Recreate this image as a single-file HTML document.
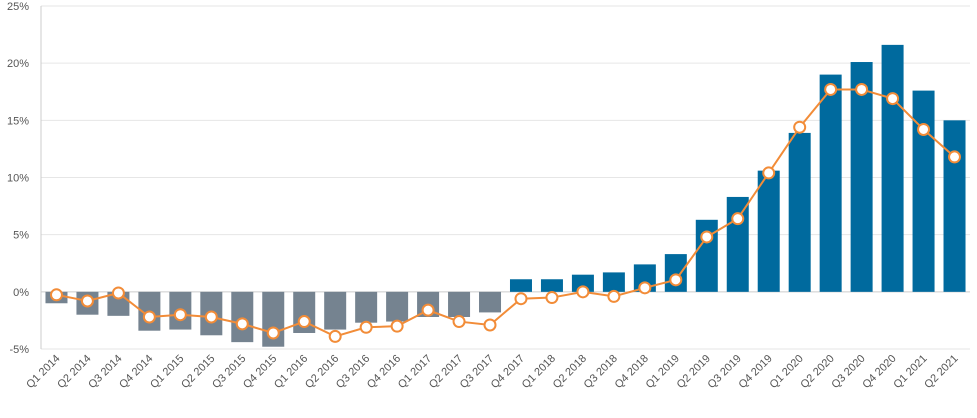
<!DOCTYPE html>
<html><head><meta charset="utf-8"><style>
body{margin:0;background:#fff;font-family:"Liberation Sans",sans-serif}
svg text{font-family:"Liberation Sans",sans-serif;font-size:11px;fill:#555}
</style></head><body>
<svg id="c" width="977" height="413"></svg>
<script>
const categories=["Q1 2014","Q2 2014","Q3 2014","Q4 2014","Q1 2015","Q2 2015","Q3 2015","Q4 2015","Q1 2016","Q2 2016","Q3 2016","Q4 2016","Q1 2017","Q2 2017","Q3 2017","Q4 2017","Q1 2018","Q2 2018","Q3 2018","Q4 2018","Q1 2019","Q2 2019","Q3 2019","Q4 2019","Q1 2020","Q2 2020","Q3 2020","Q4 2020","Q1 2021","Q2 2021"];
const barValues=[-1.0,-2.0,-2.1,-3.4,-3.3,-3.8,-4.4,-4.8,-3.6,-3.3,-2.7,-2.6,-2.2,-2.2,-1.8,1.1,1.1,1.5,1.7,2.4,3.3,6.3,8.3,10.6,13.9,19.0,20.1,21.6,17.6,15.0];
const lineValues=[-0.26,-0.8,-0.1,-2.2,-2.0,-2.2,-2.8,-3.6,-2.6,-3.9,-3.1,-3.0,-1.6,-2.6,-2.9,-0.6,-0.5,0.0,-0.4,0.35,1.05,4.8,6.4,10.4,14.4,17.7,17.7,16.9,14.2,11.8];
const yTicks=[-5,0,5,10,15,20,25];
const yTickLabels=["-5%","0%","5%","10%","15%","20%","25%"];
const NS="http://www.w3.org/2000/svg",svg=document.getElementById("c");
const L=41,R=970,T=6,B=349,yMin=-5,yMax=25;
const y=v=>B-(v-yMin)/(yMax-yMin)*(B-T);
const step=(R-L)/categories.length;
const x=i=>L+step*(i+0.5);
function mk(t,a){const e=document.createElementNS(NS,t);for(const k in a)e.setAttribute(k,a[k]);svg.appendChild(e);return e;}
yTicks.forEach((v,i)=>{
 const g=mk("line",{x1:L,x2:R,y1:y(v),y2:y(v),stroke:v===0?"#ccc":"#e6e6e6","stroke-width":1});
 
 
 const t=mk("text",{x:L-12,y:y(v)+4,"text-anchor":"end"});t.textContent=yTickLabels[i];
 
 
});
const ax=mk("line",{x1:L,x2:L,y1:T,y2:B,stroke:"#ccc"});


barValues.forEach((v,i)=>{
 const bw=22,y0=y(0),yv=y(v);
 const r=mk("rect",{x:x(i)-bw/2,y:Math.min(y0,yv),width:bw,height:Math.abs(yv-y0),fill:v<0?"#758390":"#006a9e"});
 
 
});
const pl=mk("polyline",{points:lineValues.map((v,i)=>x(i)+","+y(v)).join(" "),fill:"none",stroke:"#f28c38","stroke-width":2});


lineValues.forEach((v,i)=>{
 const c=mk("circle",{cx:x(i),cy:y(v),r:5.5,fill:"#fff",stroke:"#f28c38","stroke-width":2});
 
 
});
categories.forEach((c,i)=>{
 const t=mk("text",{x:x(i)+4,y:B+10,"text-anchor":"end",transform:`rotate(-45 ${x(i)+4} ${B+10})`});
 t.textContent=c;
 
 
});
</script>
</body></html>
